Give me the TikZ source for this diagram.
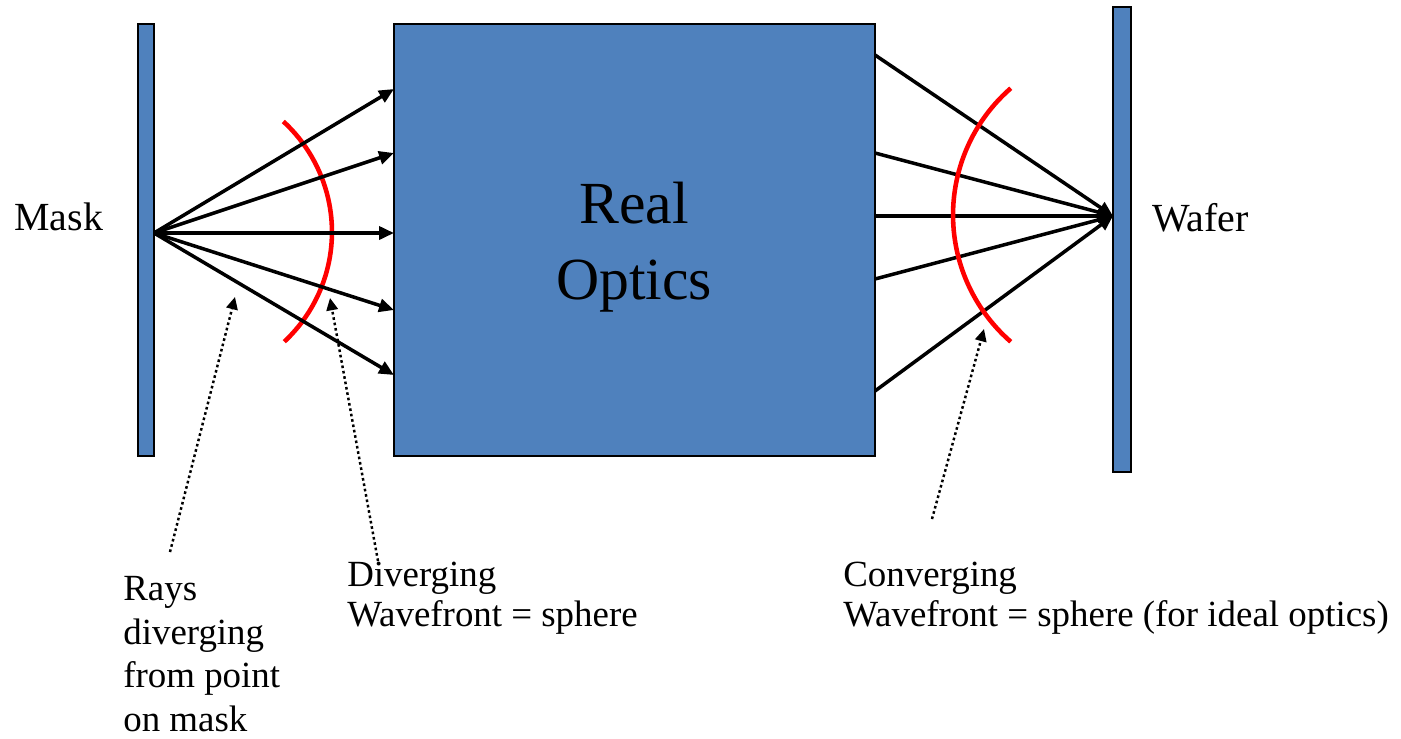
\documentclass[tikz,border=0pt]{standalone}
\usepackage{fontspec}
\setmainfont{Liberation Serif}
\usetikzlibrary{arrows.meta}
\definecolor{plate}{RGB}{79,129,189}
\tikzset{
  platebox/.style={draw=black, line width=0.8pt, fill=plate, inner sep=0pt},
  ray/.style={line width=2pt, -{Triangle[length=8.5pt,width=7.4pt]}},
  wave/.style={red, line width=2.6pt},
  pointer/.style={line width=1.4pt, dash pattern=on 1.5pt off 1.6pt,
    -{Triangle[length=7pt,width=6.5pt]}},
  lbl/.style={inner sep=0pt, font=\fontsize{22.7}{27}\selectfont},
  note/.style={inner sep=0pt, align=left, font=\fontsize{21}{22.7}\selectfont},
}
\begin{document}
\begin{tikzpicture}[x=0.02cm, y=0.02cm]
\useasboundingbox (0,0) rectangle (1401,-738);

% mask, optics block and wafer
\node[platebox, minimum width=0.32cm, minimum height=8.64cm] (mask) at (146,-240) {};
\node[platebox, minimum width=9.62cm, minimum height=8.64cm] (optics) at (634.5,-240) {};
\node[platebox, minimum width=0.36cm, minimum height=9.3cm] (wafer) at (1122,-239.5) {};
\node[inner sep=0pt, align=center, font=\fontsize{34}{43.6}\selectfont] (opticslbl)
  at (634,-247) {Real\\Optics};

\node[lbl, anchor=base west] (masklbl) at (14,-230) {Mask};
\node[lbl, anchor=base west] (waferlbl) at (1152,-231) {Wafer};

% diverging side
\coordinate (src) at (154,-233);
\coordinate (in1) at (394,-89);
\coordinate (in2) at (394,-153);
\coordinate (in3) at (394,-233);
\coordinate (in4) at (394,-310);
\coordinate (in5) at (394,-375);
\draw[wave] (182,-232) ++(-47:3cm) arc[start angle=-47, end angle=47.5, radius=3cm];
\foreach \t in {in1,in2,in3,in4,in5} \draw[ray] (src) -- (\t);

% converging side
\coordinate (focus) at (1113,-216);
\coordinate (out1) at (875,-55);
\coordinate (out2) at (875,-153);
\coordinate (out3) at (875,-216);
\coordinate (out4) at (875,-279);
\coordinate (out5) at (875,-391);
\foreach \s in {out1,out2,out3,out4,out5} \draw[ray] (\s) -- (focus);
\draw[wave] (1121,-215) ++(131:3.36cm) arc[start angle=131, end angle=229, radius=3.36cm];

% annotations
\node[note, anchor=north west, font=\fontsize{21}{24.8}\selectfont] (raysnote)
  at (123,-576) {Rays\\diverging\\from point\\on mask};
\node[note, anchor=north west] (divnote) at (347,-562) {Diverging\\Wavefront = sphere};
\node[note, anchor=north west] (convnote) at (843,-562) {Converging\\Wavefront = sphere (for ideal optics)};

\coordinate (p1s) at (170,-552);
\coordinate (p1e) at (235,-297);
\coordinate (p2s) at (378,-561);
\coordinate (p2e) at (330,-298);
\coordinate (p3s) at (932,-519);
\coordinate (p3e) at (984,-329);
\draw[pointer] (p1s) -- (p1e);
\draw[pointer] (p2s) -- (p2e);
\draw[pointer] (p3s) -- (p3e);
\end{tikzpicture}
\end{document}
